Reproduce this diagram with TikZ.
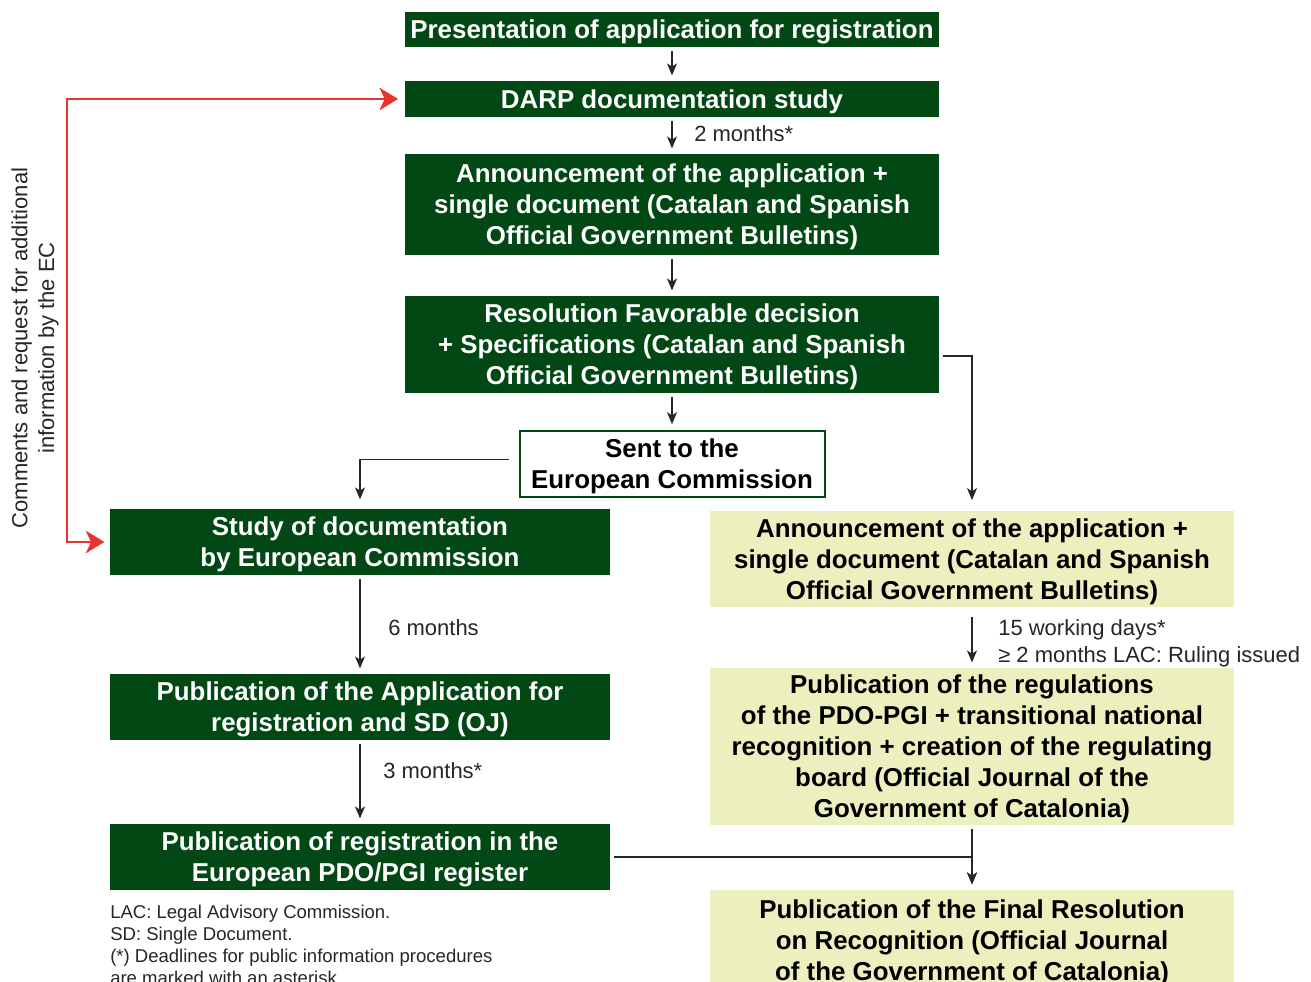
\documentclass[tikz,border=0pt]{standalone}
\usepackage{fontspec}
\setmainfont{Liberation Sans}
\usetikzlibrary{arrows.meta}

\definecolor{dkgreen}{RGB}{2,72,20}
\definecolor{ltgreen}{RGB}{236,239,190}
\definecolor{redline}{RGB}{232,52,46}

\tikzset{
  boxtext/.style={inner sep=0pt, align=center, text depth=-0.6pt,
    font=\bfseries\fontsize{19.4}{23.25}\selectfont},
  darkbox/.style={boxtext, fill=dkgreen, text=white},
  lightbox/.style={boxtext, fill=ltgreen, text=black},
  linebox/.style={boxtext, draw=dkgreen, line width=1.5pt, fill=white, text=black},
  arr/.style={draw=black!85, line width=1pt, -{Stealth[length=9pt, width=7.5pt, inset=2.5pt]},
    shorten >=4pt, shorten <=3pt},
  redarr/.style={draw=redline, line width=1.5pt},
  lbl/.style={anchor=west, inner sep=0pt, text=black!85, font=\fontsize{16.5}{20}\selectfont},
}

\begin{document}
\begin{tikzpicture}[x=0.75pt, y=-0.75pt]
	\useasboundingbox (0,0) rectangle (1311,982);
	\clip (0,0) rectangle (1311,982);
	% centre column
	\node[darkbox, minimum width=534*0.75pt, minimum height=35*0.75pt] (pres) at (672,29.5) {Presentation of application for registration};
	\node[darkbox, minimum width=534*0.75pt, minimum height=36*0.75pt] (darp) at (672,99) {DARP documentation study};
	\node[darkbox, minimum width=534*0.75pt, minimum height=101*0.75pt] (annc) at (672,204.5) {Announcement of the application +\\single document (Catalan and Spanish\\Official Government Bulletins)};
	\node[darkbox, minimum width=534*0.75pt, minimum height=97*0.75pt] (resol) at (672,344.5) {Resolution Favorable decision\\+ Specifications (Catalan and Spanish\\Official Government Bulletins)};
	\node[linebox, minimum width=305*0.75pt, minimum height=66*0.75pt] (sent) at (672,463.5) {Sent to the\\European Commission};
	% left column
	\node[darkbox, minimum width=500*0.75pt, minimum height=66*0.75pt] (study) at (360,542) {Study of documentation\\by European Commission};
	\node[darkbox, minimum width=500*0.75pt, minimum height=66*0.75pt] (pubapp) at (360,707) {Publication of the Application for\\registration and SD (OJ)};
	\node[darkbox, minimum width=500*0.75pt, minimum height=66*0.75pt] (pubreg) at (360,857) {Publication of registration in the\\European PDO/PGI register};
	% right column
	\node[lightbox, minimum width=524*0.75pt, minimum height=96*0.75pt] (annl) at (972,559) {Announcement of the application +\\single document (Catalan and Spanish\\Official Government Bulletins)};
	\node[lightbox, minimum width=524*0.75pt, minimum height=157*0.75pt] (pubregl) at (972,746.5) {Publication of the regulations\\of the PDO-PGI + transitional national\\recognition + creation of the regulating\\board (Official Journal of the\\Government of Catalonia)};
	\node[lightbox, minimum width=524*0.75pt, minimum height=100*0.75pt] (final) at (972,940) {Publication of the Final Resolution\\on Recognition (Official Journal\\of the Government of Catalonia)};
	% connectors
	\draw[arr] (pres) -- (darp);
	\draw[arr] (darp) -- (annc);
	\draw[arr] (annc) -- (resol);
	\draw[arr] (resol) -- (sent);
	\draw[arr, shorten <=7pt, shorten >=7pt] ([yshift=3pt]sent.west) -| (study.north);
	\draw[arr, shorten >=8pt] ([yshift=-8.5pt]resol.east) -| (annl.north);
	\draw[arr, shorten >=4pt] (study) -- (pubapp);
	\draw[arr] (pubapp) -- (pubreg);
	\draw[arr, shorten <=7pt] (annl) -- (pubregl);
	\draw[arr] (pubregl) -- (final);
	\draw[arr] (pubreg.east) -| (final.north);
	% red feedback loop
	\draw[redarr, {Stealth[length=14pt, width=17pt, inset=4pt]}-{Stealth[length=14pt, width=17pt, inset=4pt]}, shorten <=4pt, shorten >=5pt]
		(study.west) -- ++(-43,0) |- (darp.west);
	\node[rotate=90, align=center, text=black!85, font=\fontsize{16.5}{20}\selectfont] (cmt) at (35,348) {Comments and request for additional\\information by the EC};
	% labels
	\node[lbl] (m2) at (694,134) {2 months*};
	\node[lbl] (m6) at (388,628) {6 months};
	\node[lbl] (m3) at (383,771) {3 months*};
	\node[lbl] (d15) at (998,629.5) {15 working days*};
	\node[lbl] (lac) at (998,656.5) {≥ 2 months LAC: Ruling issued};
	\node[anchor=north west, align=left, inner sep=0pt, text=black!85, font=\fontsize{13.9}{16.5}\selectfont] (notes) at (110,905) {LAC: Legal Advisory Commission.\\SD: Single Document.\\(*) Deadlines for public information procedures\\are marked with an asterisk.};
\end{tikzpicture}
\end{document}
